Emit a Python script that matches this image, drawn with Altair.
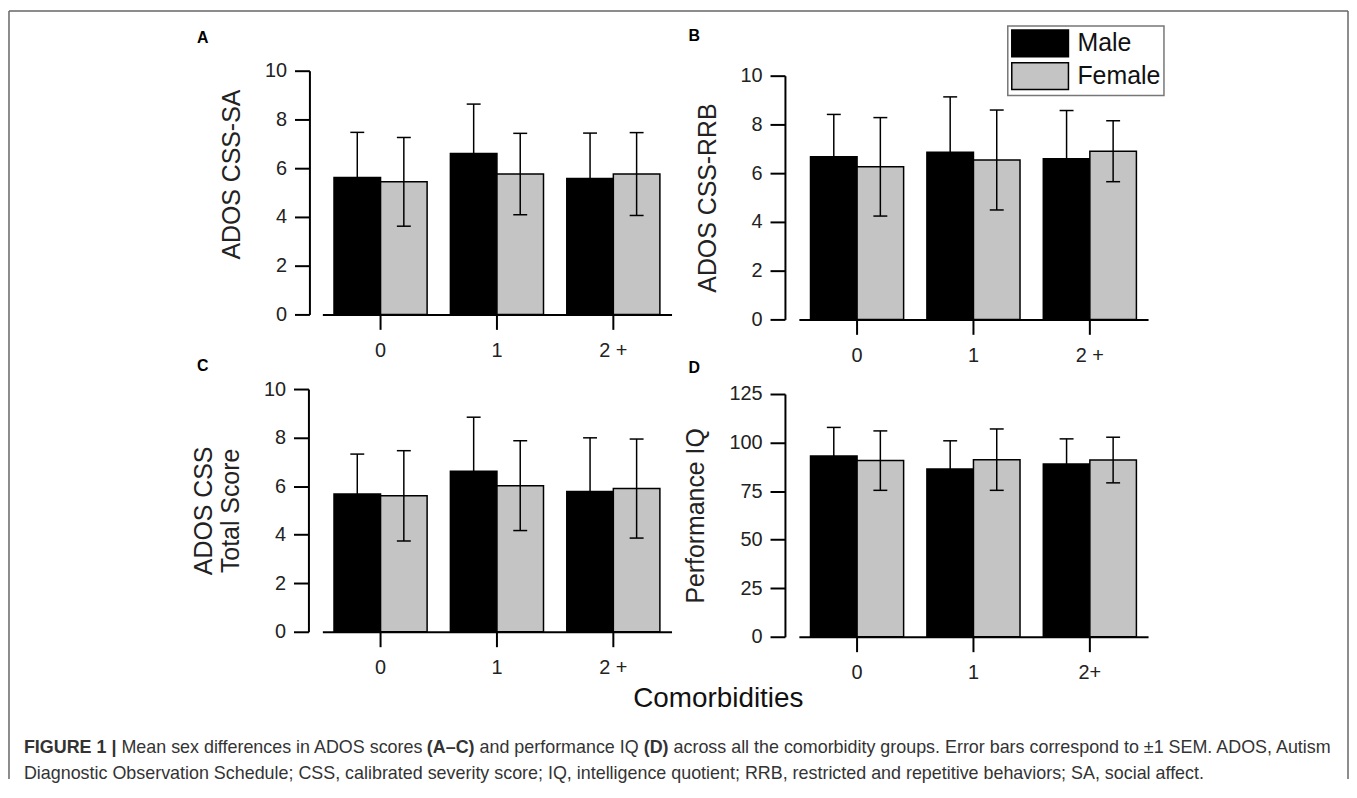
import altair as alt
import pandas as pd

FONT = "Liberation Sans"
groups = ["0", "1", "2+"]
sexes = ["Male", "Female"]

# Panel A: ADOS CSS-SA
a_male_mean = [5.62, 6.60, 5.58]
a_male_sem = [1.85, 2.03, 1.86]
a_female_mean = [5.44, 5.76, 5.76]
a_female_sem = [1.82, 1.67, 1.70]
# Panel B: ADOS CSS-RRB
b_male_mean = [6.67, 6.86, 6.59]
b_male_sem = [1.74, 2.27, 1.98]
b_female_mean = [6.26, 6.54, 6.90]
b_female_sem = [2.02, 2.05, 1.25]
# Panel C: ADOS CSS Total Score
c_male_mean = [5.68, 6.61, 5.78]
c_male_sem = [1.64, 2.23, 2.21]
c_female_mean = [5.60, 6.02, 5.90]
c_female_sem = [1.86, 1.85, 2.04]
# Panel D: Performance IQ
d_male_mean = [93.1, 86.4, 89.0]
d_male_sem = [14.7, 14.5, 12.9]
d_female_mean = [90.7, 91.2, 91.0]
d_female_sem = [15.3, 15.8, 11.75]

score_ticks = [0, 2, 4, 6, 8, 10]
iq_ticks = [0, 25, 50, 75, 100, 125]


def table(mm, ms, fm, fs):
    rows = []
    for g, m, s in zip(groups, mm, ms):
        rows.append({"group": g, "sex": "Male", "mean": m, "sem": s})
    for g, m, s in zip(groups, fm, fs):
        rows.append({"group": g, "sex": "Female", "mean": m, "sem": s})
    return pd.DataFrame(rows)


W, H = 351, 250


def panel(df, ydomain, yrange, yticks, ytitle, xoffset, yoffset,
          legend=None, title_y=None, label_expr=None):
    base = alt.Chart(df).transform_calculate(
        lo="datum.mean - datum.sem", hi="datum.mean + datum.sem")
    xaxis_kw = dict(title=None, labelAngle=0, offset=xoffset, labelPadding=11)
    if label_expr:
        xaxis_kw["labelExpr"] = label_expr
    x = alt.X("group:N", sort=groups,
              scale=alt.Scale(domain=groups, paddingInner=0.2, paddingOuter=0.1),
              axis=alt.Axis(**xaxis_kw))
    xo = alt.XOffset("sex:N", sort=sexes,
                     scale=alt.Scale(domain=sexes, paddingInner=0, paddingOuter=0))
    yscale = alt.Scale(domain=ydomain, range=yrange, nice=False, zero=True)
    yaxis_kw = dict(values=yticks, title=ytitle, offset=yoffset,
                    labelPadding=8, titlePadding=20)
    if title_y is not None:
        yaxis_kw["titleY"] = title_y
    yaxis = alt.Axis(**yaxis_kw)
    color = alt.Color("sex:N", sort=sexes,
                      scale=alt.Scale(domain=sexes, range=["#000000", "#c4c4c4"]),
                      legend=legend)
    bars = base.mark_bar(stroke="black", strokeWidth=1.5, opacity=1).encode(
        x=x, xOffset=xo,
        y=alt.Y("mean:Q", scale=yscale, axis=yaxis),
        color=color)
    rules = base.mark_rule(color="black", strokeWidth=1.5).encode(
        x=x, xOffset=xo, y=alt.Y("lo:Q", scale=yscale, axis=yaxis), y2="hi:Q")
    cap_hi = base.mark_tick(color="black", size=14, thickness=1.5, opacity=1).encode(
        x=x, xOffset=xo, y=alt.Y("hi:Q", scale=yscale, axis=yaxis))
    cap_lo = base.mark_tick(color="black", size=14, thickness=1.5, opacity=1).encode(
        x=x, xOffset=xo, y=alt.Y("lo:Q", scale=yscale, axis=yaxis))
    return [bars, rules, cap_hi, cap_lo]


one = pd.DataFrame({"k": [0]})


def txt(s, x, y, size, weight="normal", align="left", color="#222"):
    return alt.Chart(one).mark_text(
        text=s, font=FONT, fontSize=size, fontWeight=weight, align=align,
        baseline="alphabetic", color=color).encode(x=alt.value(x), y=alt.value(y))


def rule(x, y, x2=None, y2=None):
    enc = dict(x=alt.value(x), y=alt.value(y))
    if x2 is not None:
        enc["x2"] = alt.value(x2)
    if y2 is not None:
        enc["y2"] = alt.value(y2)
    return alt.Chart(one).mark_rule(color="#666", strokeWidth=1.5).encode(**enc)


# decorations positioned relative to panel A plot origin
ox, oy = 323, 68
deco = [
    rule(8 - ox, 8 - oy, y2=780 - oy),
    rule(8 - ox, 8 - oy, x2=1354 - ox),
    rule(1354 - ox, 8 - oy, y2=780 - oy),
    txt("A", 197 - ox, 40 - oy, 16, "bold", color="#000"),
    txt("B", 691 - ox, 38 - oy, 16, "bold", color="#000"),
    txt("C", 197 - ox, 370 - oy, 16, "bold", color="#000"),
    txt("D", 691 - ox, 372 - oy, 16, "bold", color="#000"),
    txt("Comorbidities", 721 - ox, 708 - oy, 28, align="center", color="#111"),
    txt("FIGURE 1 |", 23 - ox, 754 - oy, 18, "bold", color="#333"),
    txt("Mean sex differences in ADOS scores", 121 - ox, 754 - oy, 18, color="#333"),
    txt("(A\u2013C)", 428 - ox, 754 - oy, 18, "bold", color="#333"),
    txt("and performance IQ", 481 - ox, 754 - oy, 18, color="#333"),
    txt("(D)", 646 - ox, 754 - oy, 18, "bold", color="#333"),
    txt("across all the comorbidity groups. Error bars correspond to \u00b11 SEM. ADOS, Autism",
        676 - ox, 754 - oy, 18, color="#333"),
    txt("Diagnostic Observation Schedule; CSS, calibrated severity score; IQ, intelligence quotient; "
        "RRB, restricted and repetitive behaviors; SA, social affect.",
        23 - ox, 780 - oy, 18, color="#333"),
]

# legend swatch: 57 x 27 px rectangle drawn from a 27 px symbol size
legend_b = alt.Legend(
    title=None, orient="none", legendX=1012 - 802, legendY=23 - 68,
    symbolType="M-2.11,-1H2.11V1H-2.11Z", symbolSize=729, symbolOffset=15,
    symbolStrokeColor="black", symbolStrokeWidth=1.5, symbolOpacity=1,
    labelFont=FONT, labelFontSize=25, labelColor="#111", labelOffset=23,
    rowPadding=0, padding=3, strokeColor="#777")

pa = panel(table(a_male_mean, a_male_sem, a_female_mean, a_female_sem),
           [0, 10], [245, 0], score_ticks, "ADOS CSS-SA", -5, 13,
           title_y=104, label_expr="datum.label == '2+' ? '2 +' : datum.label")
pb = panel(table(b_male_mean, b_male_sem, b_female_mean, b_female_sem),
           [0, 10], [250, 5], score_ticks, "ADOS CSS-RRB", 0, 14, legend=legend_b,
           label_expr="datum.label == '2+' ? '2 +' : datum.label")
pc = panel(table(c_male_mean, c_male_sem, c_female_mean, c_female_sem),
           [0, 10], [244, 0], score_ticks, ["ADOS CSS", "Total Score"], -6, 14,
           label_expr="datum.label == '2+' ? '2 +' : datum.label")
pd_ = panel(table(d_male_mean, d_male_sem, d_female_mean, d_female_sem),
            [0, 125], [249, 5], iq_ticks, "Performance IQ", -1, 14)

A = alt.layer(*pa, *deco).properties(width=W, height=H)
B = alt.layer(*pb).properties(width=W, height=H)
C = alt.layer(*pc).properties(width=W, height=H)
D = alt.layer(*pd_).properties(width=W, height=H)

chart = alt.concat(
    A, B, C, D, columns=2, spacing={"row": 70, "column": 128}, bounds="flush"
).resolve_scale(color="independent").properties(
    padding=0, background="white"
).configure_view(stroke=None).configure_axis(
    grid=False, domainColor="black", domainWidth=2, tickColor="black",
    tickWidth=2, tickSize=15, labelFont=FONT, labelFontSize=20, labelColor="#222",
    titleFont=FONT, titleFontSize=25, titleFontWeight="normal", titleColor="#222"
).configure_legend(strokeWidth=1.5)

chart.save("out.html", embed_options={"renderer": "svg", "actions": False})
